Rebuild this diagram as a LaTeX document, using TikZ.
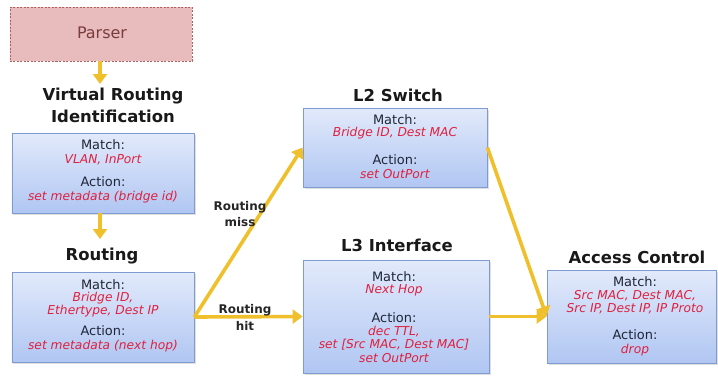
\documentclass[tikz,border=0pt]{standalone}
\usepackage{fontspec}
\setmainfont{DejaVu Sans}
\usetikzlibrary{arrows.meta,shadows}

\definecolor{flowyellow}{HTML}{F0C02C}
\definecolor{boxtop}{HTML}{E2EAFB}
\definecolor{boxbot}{HTML}{B0C6F2}
\definecolor{boxedge}{HTML}{7F9CD2}
\definecolor{parserfill}{HTML}{E8BCBC}
\definecolor{parseredge}{HTML}{B06060}
\definecolor{parsertext}{HTML}{7A3C3C}
\definecolor{labeltext}{HTML}{1E2638}
\definecolor{fieldred}{HTML}{E0203E}

\tikzset{
  table/.style={draw=boxedge, line width=0.8bp, top color=boxtop, bottom color=boxbot,
    drop shadow={shadow xshift=1.5bp, shadow yshift=-1.5bp, opacity=0.25}},
  parserbox/.style={draw=parseredge, dash pattern=on 2bp off 1.5bp, line width=0.8bp, fill=parserfill},
  stagetitle/.style={font=\bfseries\fontsize{16.5}{18}\selectfont, text=black!90},
  fieldkey/.style={font=\fontsize{13}{14}\selectfont, text=labeltext},
  fieldval/.style={font=\itshape\fontsize{12.3}{13}\selectfont, text=fieldred},
  edgelabel/.style={font=\bfseries\fontsize{12}{13}\selectfont, text=black!85},
  flow/.style={draw=flowyellow, line width=3.6bp,
    -{Triangle[length=10bp,width=14bp,fill=flowyellow]}},
}

\begin{document}
\begin{tikzpicture}[x=1bp,y=-1bp]
\useasboundingbox (0,0) rectangle (718,377);

% pipeline stages
\node[parserbox, minimum width=182bp, minimum height=54bp] (parser) at (101,34) {};
\node[font=\fontsize{16}{18}\selectfont, text=parsertext] (parsertxt) at (102,33) {Parser};

\node[table, minimum width=182bp, minimum height=80bp] (vri) at (103,173) {};
\node[table, minimum width=182bp, minimum height=90bp] (routing) at (103,317) {};
\node[table, minimum width=184bp, minimum height=79bp] (l2) at (395,147.5) {};
\node[table, minimum width=186bp, minimum height=113bp] (l3) at (396,316.5) {};
\node[table, minimum width=169bp, minimum height=93bp] (acl) at (631.5,316.5) {};

% stage titles
\node[stagetitle] (vrit1) at (113,96) {Virtual Routing};
\node[stagetitle] (vrit2) at (113,116) {Identification};
\node[stagetitle] (routingt) at (102,256) {Routing};
\node[stagetitle] (l2t) at (398,95) {L2 Switch};
\node[stagetitle] (l3t) at (397,245) {L3 Interface};
\node[stagetitle] (aclt) at (637,257) {Access Control};

% table contents
\node[fieldkey] (vrim) at (103,145) {Match:};
\node[fieldval] (vrimv) at (103,160) {VLAN, InPort};
\node[fieldkey] (vria) at (103,182) {Action:};
\node[fieldval] (vriav) at (103,197) {set metadata (bridge id)};

\node[fieldkey] (rtm) at (103,285) {Match:};
\node[fieldval] (rtmv1) at (103,298) {Bridge ID,};
\node[fieldval] (rtmv2) at (103,311) {Ethertype, Dest IP};
\node[fieldkey] (rta) at (103,331) {Action:};
\node[fieldval] (rtav) at (103,346) {set metadata (next hop)};

\node[fieldkey] (l2m) at (395,120) {Match:};
\node[fieldval] (l2mv) at (395,133) {Bridge ID, Dest MAC};
\node[fieldkey] (l2a) at (395,160) {Action:};
\node[fieldval] (l2av) at (395,174) {set OutPort};

\node[fieldkey] (l3m) at (394,277) {Match:};
\node[fieldval] (l3mv) at (394,290) {Next Hop};
\node[fieldkey] (l3a) at (394,318) {Action:};
\node[fieldval] (l3av1) at (394,332) {dec TTL,};
\node[fieldval] (l3av2) at (394,345) {set [Src MAC, Dest MAC]};
\node[fieldval] (l3av3) at (394,358) {set OutPort};

\node[fieldkey] (aclm) at (635,282) {Match:};
\node[fieldval] (aclmv1) at (635,296) {Src MAC, Dest MAC,};
\node[fieldval] (aclmv2) at (635,309) {Src IP, Dest IP, IP Proto};
\node[fieldkey] (acla) at (635,335) {Action:};
\node[fieldval] (aclav) at (635,350) {drop};

% flow between stages
\coordinate (parserout) at (100,61);
\coordinate (vriin) at (100,84);
\coordinate (vriout) at (100,213);
\coordinate (routingin) at (100,239);
\draw[flow] (parserout) -- (vriin);
\draw[flow] (vriout) -- (routingin);
\draw[flow] (routing.east) -- (l2.west);
\draw[flow] (routing.east) -- (l3.west);
\draw[flow] (l2.east) -- (acl.west);
\draw[flow] (l3.east) -- (acl.west);

% branch labels
\node[edgelabel] (missa) at (240,207) {Routing};
\node[edgelabel] (missb) at (240,222) {miss};
\node[edgelabel] (hita) at (245,310) {Routing};
\node[edgelabel] (hitb) at (245,326) {hit};
\end{tikzpicture}
\end{document}
